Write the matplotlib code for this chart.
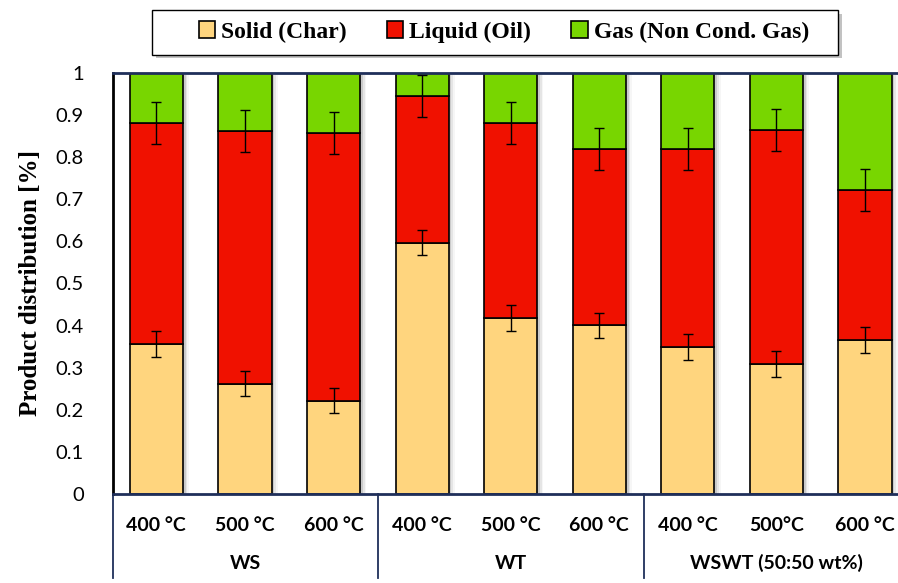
import matplotlib.pyplot as plt
import matplotlib.patches as mpatches
import numpy as np

# product yields (fraction) for each feedstock / temperature
groups = ['WS', 'WT', 'WSWT (50:50 wt%)']
temps = ['400 °C', '500 °C', '600 °C', '400 °C', '500 °C', '600 °C', '400 °C', '500°C', '600 °C']
solid = [0.356, 0.262, 0.222, 0.597, 0.418, 0.401, 0.349, 0.309, 0.366]
liquid = [0.526, 0.600, 0.636, 0.349, 0.463, 0.418, 0.470, 0.555, 0.356]
gas = [1 - s - l for s, l in zip(solid, liquid)]
solid_err = [0.03] * 9
liquid_err = [0.05] * 9

c_solid = '#FFD57E'
c_liquid = '#F01100'
c_gas = '#78D600'
navy = '#1F2F5A'

fig = plt.figure(figsize=(8.98, 5.83), dpi=100)
ax = fig.add_axes([0.1258, 0.1527, 0.874, 0.7221])

x = np.arange(len(temps))
w = 0.6
liq_top = np.array(solid) + np.array(liquid)

# soft drop shadow on the right of each bar
for k, a in zip([0.03, 0.05, 0.07], [0.18, 0.10, 0.05]):
    ax.bar(x + k, 1.0, w, bottom=-0.004, color='#555555', alpha=a, lw=0, zorder=1)

ax.bar(x, solid, w, color=c_solid, edgecolor='black', lw=1.2, zorder=2, label='Solid (Char)')
ax.bar(x, liquid, w, bottom=solid, color=c_liquid, edgecolor='black', lw=1.2, zorder=2, label='Liquid (Oil)')
ax.bar(x, gas, w, bottom=liq_top, color=c_gas, edgecolor='black', lw=1.2, zorder=2, label='Gas (Non Cond. Gas)')

ax.errorbar(x, solid, yerr=solid_err, fmt='none', ecolor='black', elinewidth=1, capsize=3.5, capthick=1, zorder=3)
ax.errorbar(x, liq_top, yerr=liquid_err, fmt='none', ecolor='black', elinewidth=1, capsize=3.5, capthick=1, zorder=3)

ax.set_xlim(-0.49, 8.37)
ax.set_ylim(0, 1)
ax.set_yticks(np.arange(0, 1.01, 0.1))
ax.set_yticklabels(['0'] + ['%.1f' % v for v in np.arange(0.1, 0.95, 0.1)] + ['1'],
                   fontsize=14.5, family='Lato')
ax.tick_params(axis='y', length=0, pad=21)
ax.set_xticks([])

ax.spines['right'].set_visible(False)
ax.spines['left'].set_color('black')
ax.spines['left'].set_linewidth(2)
for s in ['top', 'bottom']:
    ax.spines[s].set_color(navy)
    ax.spines[s].set_linewidth(2)

ax.set_ylabel('Product distribution [%]', family='Liberation Serif', fontweight='bold',
              fontsize=18, labelpad=10)

# category table under the axis
trans = ax.get_xaxis_transform()
for xs in [-0.49, 2.5, 5.5]:
    ax.plot([xs, xs], [0, -0.2], color=navy, lw=1.3, transform=trans, clip_on=False)
for xi, t in zip(x, temps):
    ax.text(xi, -0.075, t, ha='center', va='center', transform=trans,
            family='Lato', fontweight='bold', fontsize=14)
for gi, g in enumerate(groups):
    ax.text(3 * gi + 1, -0.164, g, ha='center', va='center', transform=trans,
            family='Lato', fontweight='bold', fontsize=14)

# legend box with a drop shadow, legend entries drawn inside it
bx, by, bw, bh = 0.1693, 0.9057, 0.7639, 0.0771
fig.patches.append(mpatches.Rectangle((bx + 0.004, by - 0.006), bw, bh, transform=fig.transFigure,
                                      facecolor='#9a9a9a', edgecolor='none', alpha=0.6, zorder=0))
fig.patches.append(mpatches.Rectangle((bx, by), bw, bh, transform=fig.transFigure,
                                      facecolor='white', edgecolor='black', lw=1.0, zorder=1))
leg = fig.legend(loc='center', bbox_to_anchor=(0.561, 0.945), ncol=3, frameon=False,
                 handlelength=0.7, handleheight=0.7, handletextpad=0.25, columnspacing=1.7,
                 borderpad=0, borderaxespad=0,
                 prop={'family': 'Liberation Serif', 'weight': 'bold', 'size': 17})

fig.savefig('out.png', dpi=100)
